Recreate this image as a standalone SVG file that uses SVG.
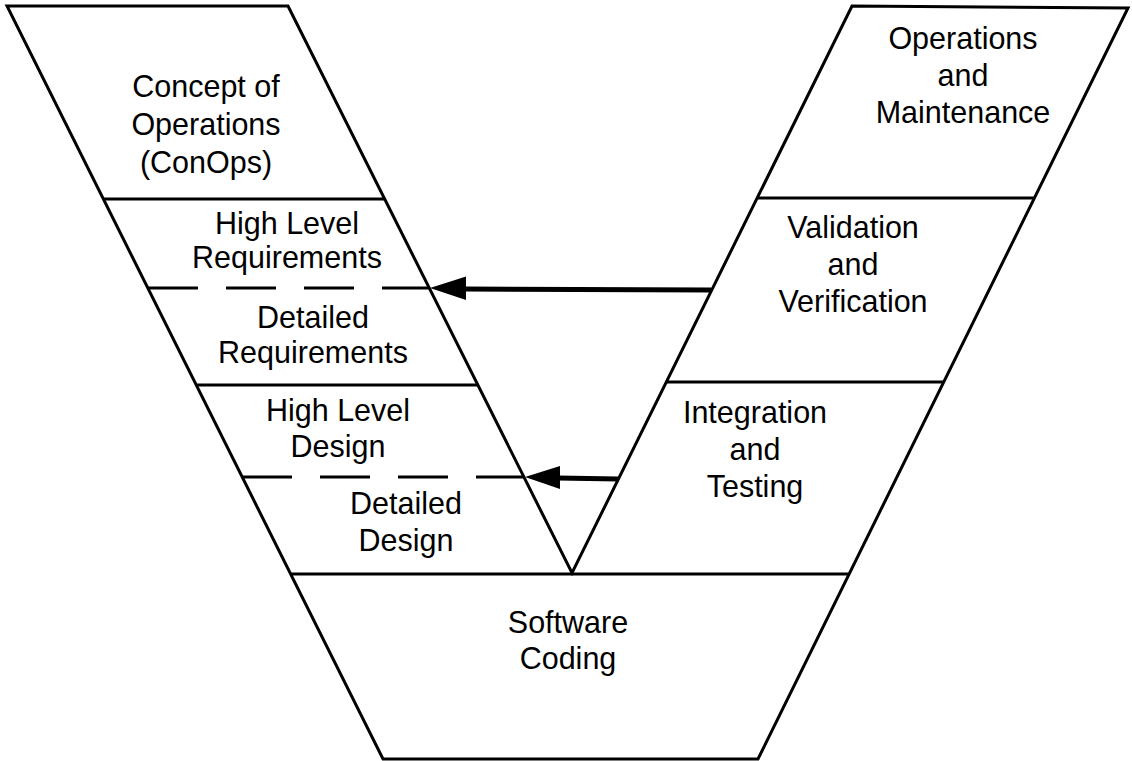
<svg xmlns="http://www.w3.org/2000/svg" width="1132" height="761" viewBox="0 0 1132 761">
  <style>
    .edge { fill: none; stroke: #000; stroke-width: 3; stroke-linejoin: miter; stroke-linecap: butt; }
    .split { fill: none; stroke: #000; stroke-width: 3; }
    .dash { fill: none; stroke: #000; stroke-width: 3; stroke-dasharray: 50 28; }
    .label { font-family: "Liberation Sans", Arial, Helvetica, sans-serif; font-size: 30.5px; fill: #000; text-anchor: middle; }
    .shaft { fill: none; stroke: #000; stroke-width: 5; }
  </style>

  <rect width="1132" height="761" fill="#fff"/>

  <!-- V outline -->
  <g id="outline">
    <polygon class="edge" points="7,6 288,6 572,573 852,6 1128,8 758,759 383,759"/>
    <!-- left arm separators -->
    <line class="split" x1="103" y1="199" x2="385" y2="199"/>
    <line class="dash" x1="148" y1="288" x2="430" y2="288"/>
    <line class="split" x1="196" y1="385" x2="478" y2="385"/>
    <line class="dash" x1="242" y1="477" x2="525" y2="477"/>
    <!-- right arm separators -->
    <line class="split" x1="757" y1="198" x2="1034" y2="198"/>
    <line class="split" x1="666" y1="382" x2="944" y2="382"/>
    <!-- base separator -->
    <line class="split" x1="290" y1="574" x2="850" y2="574"/>
  </g>

  <g id="conops">
    <text class="label" x="206" y="97">Concept of</text>
    <text class="label" x="206" y="135">Operations</text>
    <text class="label" x="206" y="173">(ConOps)</text>
  </g>
  <g id="high-level-req">
    <text class="label" x="287" y="234">High Level</text>
    <text class="label" x="287" y="268">Requirements</text>
  </g>
  <g id="detailed-req">
    <text class="label" x="313" y="328">Detailed</text>
    <text class="label" x="313" y="363">Requirements</text>
  </g>
  <g id="high-level-design">
    <text class="label" x="338" y="421">High Level</text>
    <text class="label" x="338" y="457">Design</text>
  </g>
  <g id="detailed-design">
    <text class="label" x="406" y="514">Detailed</text>
    <text class="label" x="406" y="551">Design</text>
  </g>
  <g id="coding">
    <text class="label" x="568" y="633">Software</text>
    <text class="label" x="568" y="669">Coding</text>
  </g>
  <g id="integration">
    <text class="label" x="755" y="423">Integration</text>
    <text class="label" x="755" y="460">and</text>
    <text class="label" x="755" y="497">Testing</text>
  </g>
  <g id="validation">
    <text class="label" x="853" y="238">Validation</text>
    <text class="label" x="853" y="275">and</text>
    <text class="label" x="853" y="312">Verification</text>
  </g>
  <g id="operations">
    <text class="label" x="963" y="49">Operations</text>
    <text class="label" x="963" y="86">and</text>
    <text class="label" x="963" y="123">Maintenance</text>
  </g>

  <!-- traceability arrows -->
  <g id="connectors">
    <line class="shaft" x1="711" y1="290" x2="464" y2="289"/>
    <polygon points="430,288 466,276.5 466,300" fill="#000"/>
    <line class="shaft" x1="618" y1="479" x2="558" y2="478"/>
    <polygon points="525,477 560,466 560,489" fill="#000"/>
  </g>
</svg>
